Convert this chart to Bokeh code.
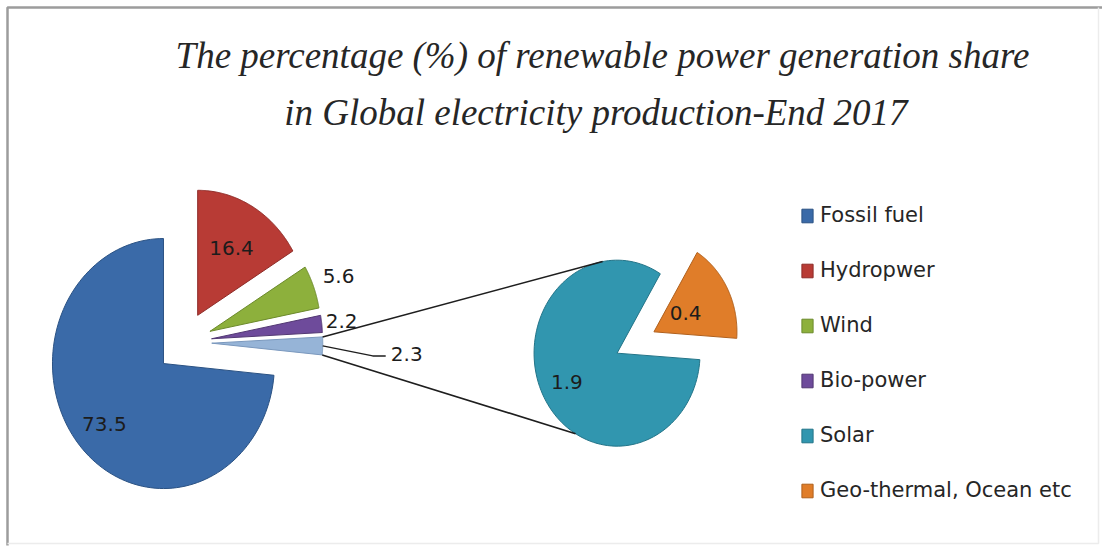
import numpy as np
from bokeh.plotting import figure
from bokeh.models import Range1d, Legend, LegendItem, ColumnDataSource
from bokeh.core.properties import value
from bokeh.embed import file_html
from bokeh.resources import INLINE

# ---- data -------------------------------------------------------------
main_labels = ["Hydropwer", "Wind", "Bio-power", "Other", "Fossil fuel"]
main_values = [16.4, 5.6, 2.2, 2.3, 73.5]
main_colors = ["#b83b35", "#8db03c", "#6e4b9b", "#96b4d7", "#3a6aa8"]
main_edges = ["#8e2c28", "#6c8a2c", "#523873", "#7a98bd", "#2b5283"]

sub_labels = ["Geo-thermal, Ocean etc", "Solar"]
sub_values = [0.4, 1.9]
sub_colors = ["#e07d29", "#3196af"]
sub_edges = ["#b0601c", "#237488"]

legend_order = ["Fossil fuel", "Hydropwer", "Wind", "Bio-power", "Solar",
                "Geo-thermal, Ocean etc"]

title_lines = ["The percentage (%) of renewable power generation share",
               "in Global electricity  production-End 2017"]

W, H = 1102, 553
FONT = "DejaVu Sans"

p = figure(width=W, height=H, output_backend="svg", toolbar_location=None,
           x_range=Range1d(0, W), y_range=Range1d(H, 0),
           min_border=0, outline_line_color=None)
p.axis.visible = False
p.grid.visible = False

# ---- frame --------------------------------------------------------------
p.line([7, 7, W], [H - 8, 7, 7], line_color="#9c9c9c", line_width=2.5)
p.line([7, W - 4, W - 4], [H - 10, H - 10, 7], line_color="#ececec", line_width=1.5)

# ---- title --------------------------------------------------------------
p.text(x=[602, 600], y=[55, 112], text=title_lines,
       text_font=value("Liberation Serif"), text_font_style="italic",
       text_font_size="37px", text_color="#262626",
       text_align="center", text_baseline="middle")


def slices(values, start, total, cx, cy, rx, ry, explode):
    """Exploded elliptical wedges, going clockwise from `start` degrees."""
    xs, ys, mids, corners = [], [], [], []
    a0 = start
    for v in values:
        a1 = a0 - v / total * 360.0
        mid = np.radians((a0 + a1) / 2)
        ox = cx + explode * rx * np.cos(mid)
        oy = cy - explode * ry * np.sin(mid)
        t = np.radians(np.linspace(a0, a1, 120))
        xs.append([ox] + list(ox + rx * np.cos(t)))
        ys.append([oy] + list(oy - ry * np.sin(t)))
        mids.append(mid)
        corners.append((ox, oy, np.radians(a0), np.radians(a1)))
        a0 = a1
    return xs, ys, mids, corners


# ---- main pie ----------------------------------------------------------
MCX, MCY, MRX, MRY = 183.5, 342, 111, 125
mx, my, mmid, mcorn = slices(main_values, 90, 100.0, MCX, MCY, MRX, MRY, 0.25)
main_src = ColumnDataSource(dict(xs=mx, ys=my, fill=main_colors, edge=main_edges,
                                 name=main_labels))
main_r = p.patches("xs", "ys", source=main_src, fill_color="fill",
                   line_color="edge", line_width=1)

# ---- secondary pie -----------------------------------------------------
SCX, SCY, SRX, SRY = 635, 342, 83, 93
sx, sy, smid, scorn = slices(sub_values, 58.6, sum(sub_values), SCX, SCY, SRX, SRY, 0.25)
sub_src = ColumnDataSource(dict(xs=sx, ys=sy, fill=sub_colors, edge=sub_edges,
                                name=sub_labels))
sub_r = p.patches("xs", "ys", source=sub_src, fill_color="fill",
                  line_color="edge", line_width=1)

# ---- connector lines from "Other" slice to the secondary pie ------------
ox, oy, oa0, oa1 = mcorn[3]
sox, soy, _, _ = scorn[1]
top_a, bot_a = np.radians(100), np.radians(240)
p.segment(x0=[ox + MRX * np.cos(oa0), ox + MRX * np.cos(oa1)],
          y0=[oy - MRY * np.sin(oa0), oy - MRY * np.sin(oa1)],
          x1=[sox + SRX * np.cos(top_a), sox + SRX * np.cos(bot_a)],
          y1=[soy - SRY * np.sin(top_a), soy - SRY * np.sin(bot_a)],
          line_color="#1e1e1e", line_width=1.6)

# ---- data labels ---------------------------------------------------------
def label_pos(corner, mid, frac, rx, ry):
    cx0, cy0, _, _ = corner
    return cx0 + frac * rx * np.cos(mid), cy0 - frac * ry * np.sin(mid)


lx, ly, lt = [], [], []
main_fracs = [0.62, 1.24, 1.18, None, 0.72]
for v, c, m, f in zip(main_values, mcorn, mmid, main_fracs):
    if f is None:
        continue
    x, y = label_pos(c, m, f, MRX, MRY)
    lx.append(x); ly.append(y); lt.append(f"{v:.1f}")
sub_fracs = [0.43, 0.68]
for v, c, m, f in zip(sub_values, scorn, smid, sub_fracs):
    x, y = label_pos(c, m, f, SRX, SRY)
    lx.append(x); ly.append(y); lt.append(f"{v:.1f}")

# "Other" slice label with leader line
om = mmid[3]
ex, ey = ox + MRX * np.cos(om), oy - MRY * np.sin(om)
p.line([ex, ex + 50, ex + 63], [ey, ey + 10, ey + 10], line_color="#1e1e1e", line_width=1.4)
lx.append(ex + 84); ly.append(ey + 8); lt.append(f"{main_values[3]:.1f}")

p.text(x=lx, y=ly, text=lt, text_font=value(FONT), text_font_size="20px",
       text_color="#1c1c1c", text_align="center", text_baseline="middle")

# ---- legend --------------------------------------------------------------
items = []
for name in legend_order:
    if name in main_labels:
        items.append(LegendItem(label=name, renderers=[main_r], index=main_labels.index(name)))
    else:
        items.append(LegendItem(label=name, renderers=[sub_r], index=sub_labels.index(name)))

legend = Legend(items=items, location=(800, 51), orientation="vertical",
                glyph_width=14, glyph_height=17, label_height=20,
                label_standoff=6, spacing=31, padding=0, margin=0,
                label_text_font=FONT, label_text_font_size="21px",
                label_text_color="#262626", border_line_alpha=0,
                background_fill_alpha=0)
p.add_layout(legend, "center")

open("out.html", "w").write(file_html(p, INLINE))
